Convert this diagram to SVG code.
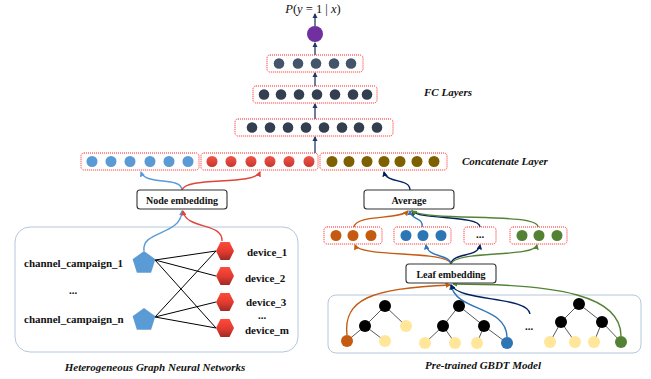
<svg xmlns="http://www.w3.org/2000/svg" width="651" height="379" viewBox="0 0 651 379">
<defs>
<style>
.dbox{fill:#fff;stroke:#ff2020;stroke-width:1;stroke-dasharray:1 1}
.sbox{fill:#fff;stroke:#333;stroke-width:1.1}
.lbl{font-family:"Liberation Serif",serif;font-weight:bold;font-size:10px;fill:#111;text-anchor:middle}
.node{font-family:"Liberation Serif",serif;font-weight:bold;font-size:11px;fill:#111}
.cap{font-family:"Liberation Serif",serif;font-weight:bold;font-style:italic;font-size:11px;fill:#111}
.fc1{fill:#44546a}.fc2{fill:#333f50}
.bl{fill:#5b9bd5}.rd{fill:url(#rg)}.br{fill:#7f6000}
.or{fill:#c55a11}.lb{fill:#2e75b6}.gr{fill:#548235}.ye{fill:#ffe699}.bk{fill:#000}
.edge{stroke:#000;stroke-width:1;fill:none}
.tedge{stroke:#595959;stroke-width:1;fill:none}
.nv{stroke:#1f3864;stroke-width:1.3;fill:none}
.c-bl{stroke:#5b9bd5;stroke-width:1.4;fill:none}
.c-rd{stroke:#e0443a;stroke-width:1.4;fill:none}
.c-or{stroke:#c55a11;stroke-width:1.4;fill:none}
.c-lb{stroke:#2e75b6;stroke-width:1.4;fill:none}
.c-gr{stroke:#548235;stroke-width:1.4;fill:none}
.c-nv{stroke:#002060;stroke-width:1.4;fill:none}
</style>
<linearGradient id="rg" x1="0" y1="0" x2="0" y2="1"><stop offset="0" stop-color="#f0564a"/><stop offset="1" stop-color="#c8362c"/></linearGradient>
<linearGradient id="hg" x1="0" y1="0" x2="0" y2="1"><stop offset="0" stop-color="#ff4a3a"/><stop offset="0.55" stop-color="#e03a30"/><stop offset="1" stop-color="#9e2a26"/></linearGradient>
<marker id="a-nv" viewBox="0 0 10 10" refX="8" refY="5" markerWidth="4" markerHeight="4" orient="auto"><path d="M0,0L10,5L0,10z" fill="#1f3864"/></marker>
<marker id="a-dn" viewBox="0 0 10 10" refX="8" refY="5" markerWidth="4" markerHeight="4" orient="auto"><path d="M0,0L10,5L0,10z" fill="#002060"/></marker>
<marker id="a-bl" viewBox="0 0 10 10" refX="8" refY="5" markerWidth="4" markerHeight="4" orient="auto"><path d="M0,0L10,5L0,10z" fill="#5b9bd5"/></marker>
<marker id="a-rd" viewBox="0 0 10 10" refX="8" refY="5" markerWidth="4" markerHeight="4" orient="auto"><path d="M0,0L10,5L0,10z" fill="#e0443a"/></marker>
<marker id="a-or" viewBox="0 0 10 10" refX="8" refY="5" markerWidth="4" markerHeight="4" orient="auto"><path d="M0,0L10,5L0,10z" fill="#c55a11"/></marker>
<marker id="a-lb" viewBox="0 0 10 10" refX="8" refY="5" markerWidth="4" markerHeight="4" orient="auto"><path d="M0,0L10,5L0,10z" fill="#2e75b6"/></marker>
<marker id="a-gr" viewBox="0 0 10 10" refX="8" refY="5" markerWidth="4" markerHeight="4" orient="auto"><path d="M0,0L10,5L0,10z" fill="#548235"/></marker>
<polygon id="hex" points="-9,0 -4.5,-9 4.5,-9 9,0 4.5,9 -4.5,9" fill="url(#hg)"/>
<polygon id="pent" points="0,-12 11.4,-3.7 7.1,9.7 -7.1,9.7 -11.4,-3.7" fill="#5b9bd5"/>
</defs>
<rect width="651" height="379" fill="#fff"/>

<g id="gnn-box"><rect x="15" y="227" width="283" height="125" rx="15" fill="#fff" stroke="#b4c7dc" stroke-width="1"/></g>
<g id="gbdt-box"><rect x="328" y="295" width="313" height="58" rx="8" fill="#fff" stroke="#b4c7dc" stroke-width="1"/></g>

<g id="connectors">
<line class="nv" x1="315" y1="26" x2="315" y2="14" marker-end="url(#a-nv)"/>
<line class="nv" x1="315" y1="55" x2="315" y2="43" marker-end="url(#a-nv)"/>
<line class="nv" x1="315" y1="86" x2="315" y2="73" marker-end="url(#a-nv)"/>
<line class="nv" x1="315" y1="119" x2="315" y2="104" marker-end="url(#a-nv)"/>
<line class="nv" x1="315" y1="153" x2="315" y2="137" marker-end="url(#a-nv)"/>
<path class="c-bl" d="M182,190 C181,176 146,186 141,172" marker-end="url(#a-bl)"/>
<path class="c-rd" d="M182,190 C186,176 254,186 260,172" marker-end="url(#a-rd)"/>
<path class="c-bl" d="M144,251 C141,230 181,236 182,211" marker-end="url(#a-bl)"/>
<path class="c-rd" d="M222,241 C223,222 186,230 183,211" marker-end="url(#a-rd)"/>
<line class="edge" x1="155" y1="260" x2="216" y2="251"/>
<line class="edge" x1="155" y1="260" x2="216" y2="276"/>
<line class="edge" x1="155" y1="260" x2="216" y2="328"/>
<line class="edge" x1="155" y1="317" x2="216" y2="251"/>
<line class="edge" x1="155" y1="317" x2="216" y2="302"/>
<line class="edge" x1="155" y1="317" x2="216" y2="328"/>
<path class="c-nv" d="M410,190 C410,178 387,184 384,172" marker-end="url(#a-dn)"/>
<path class="c-or" d="M354,227 C356,214 400,220 408,211" marker-end="url(#a-or)"/>
<path class="c-lb" d="M422,227 C424,217 410,220 410,211" marker-end="url(#a-lb)"/>
<path class="c-nv" d="M480,227 C480,215 420,220 412,211" marker-end="url(#a-dn)"/>
<path class="c-gr" d="M538,227 C538,212 430,222 412,211" marker-end="url(#a-gr)"/>
<path class="c-or" d="M451,264 C448,250 360,258 355,245" marker-end="url(#a-or)"/>
<path class="c-lb" d="M451,264 C450,254 428,258 426,245" marker-end="url(#a-lb)"/>
<path class="c-nv" d="M451,264 C453,252 478,258 480,245" marker-end="url(#a-dn)"/>
<path class="c-gr" d="M451,264 C455,250 534,258 537,245" marker-end="url(#a-gr)"/>
<path class="c-or" d="M347,335 C343,300 370,288 450,285" marker-end="url(#a-or)"/>
<path class="c-lb" d="M507,337 C506,305 456,312 451,285" marker-end="url(#a-lb)"/>
<path class="c-nv" d="M530,314 C528,296 460,302 451,285" marker-end="url(#a-dn)"/>
<path class="c-gr" d="M621,336 C621,296 560,284 453,284" marker-end="url(#a-gr)"/>
<g class="tedge">
<path d="M385,306 L365,326 M385,306 L406,326 M365,326 L347,341 M365,326 L385,341"/>
<path d="M459,306 L443,326 M459,306 L484,326 M443,326 L425,343 M443,326 L455,343 M484,326 L477,343 M484,326 L507,343"/>
<path d="M579,304 L561,322 M579,304 L602,322 M561,322 L550,342 M561,322 L575,342 M602,322 L594,342 M602,322 L621,342"/>
</g>
</g>

<g id="output"><circle cx="315" cy="34" r="8" fill="#7030a0"/>
<text x="313" y="13" font-family="Liberation Serif,serif" font-size="12.5" text-anchor="middle" fill="#111"><tspan font-style="italic">P</tspan>(<tspan font-style="italic">y</tspan> = 1 | <tspan font-style="italic">x</tspan>)</text></g>

<g id="fc1"><rect class="dbox" x="267" y="55" width="96" height="17" rx="3"/>
<g class="fc1"><circle cx="279" cy="63.5" r="5.3"/><circle cx="298" cy="63.5" r="5.3"/><circle cx="316" cy="63.5" r="5.3"/><circle cx="334" cy="63.5" r="5.3"/><circle cx="351" cy="63.5" r="5.3"/></g></g>
<g id="fc2"><rect class="dbox" x="253" y="86" width="124" height="17" rx="3"/>
<g class="fc2"><circle cx="264" cy="94.5" r="5.3"/><circle cx="281" cy="94.5" r="5.3"/><circle cx="299" cy="94.5" r="5.3"/><circle cx="317" cy="94.5" r="5.3"/><circle cx="335" cy="94.5" r="5.3"/><circle cx="353" cy="94.5" r="5.3"/><circle cx="367" cy="94.5" r="5.3"/></g></g>
<g id="fc3"><rect class="dbox" x="235" y="119" width="158" height="17" rx="3"/>
<g class="fc2"><circle cx="252" cy="127.5" r="5.3"/><circle cx="270" cy="127.5" r="5.3"/><circle cx="288" cy="127.5" r="5.3"/><circle cx="306" cy="127.5" r="5.3"/><circle cx="324" cy="127.5" r="5.3"/><circle cx="342" cy="127.5" r="5.3"/><circle cx="359" cy="127.5" r="5.3"/><circle cx="377" cy="127.5" r="5.3"/></g></g>
<g id="fc-label"><text class="cap" x="424" y="96">FC Layers</text></g>

<g id="concat-blue"><rect class="dbox" x="81" y="153" width="118" height="17" rx="3"/>
<g class="bl"><circle cx="92" cy="161.5" r="5.5"/><circle cx="111" cy="161.5" r="5.5"/><circle cx="130" cy="161.5" r="5.5"/><circle cx="150" cy="161.5" r="5.5"/><circle cx="169" cy="161.5" r="5.5"/><circle cx="188" cy="161.5" r="5.5"/></g></g>
<g id="concat-red"><rect class="dbox" x="201" y="153" width="117" height="17" rx="3"/>
<g class="rd"><circle cx="212" cy="161.5" r="5.5"/><circle cx="231" cy="161.5" r="5.5"/><circle cx="251" cy="161.5" r="5.5"/><circle cx="270" cy="161.5" r="5.5"/><circle cx="289" cy="161.5" r="5.5"/><circle cx="309" cy="161.5" r="5.5"/></g></g>
<g id="concat-brown"><rect class="dbox" x="320" y="153" width="127" height="17" rx="3"/>
<g class="br"><circle cx="332" cy="161.5" r="5.5"/><circle cx="349" cy="161.5" r="5.5"/><circle cx="367" cy="161.5" r="5.5"/><circle cx="384" cy="161.5" r="5.5"/><circle cx="400" cy="161.5" r="5.5"/><circle cx="417" cy="161.5" r="5.5"/><circle cx="434" cy="161.5" r="5.5"/></g></g>
<g id="concat-label"><text class="cap" x="462" y="165">Concatenate Layer</text></g>

<g id="node-embedding"><rect class="sbox" x="137" y="190" width="90" height="19" rx="3"/><text class="lbl" x="182" y="203.5">Node embedding</text></g>
<g id="average"><rect class="sbox" x="364" y="190" width="90" height="19" rx="3"/><text class="lbl" x="409" y="203.5">Average</text></g>
<g id="leaf-embedding"><rect class="sbox" x="406" y="264" width="90" height="19" rx="3"/><text class="lbl" x="451" y="277.5">Leaf embedding</text></g>

<g id="group-orange"><rect class="dbox" x="324" y="227" width="58" height="17" rx="3"/><g class="or"><circle cx="336" cy="235.5" r="5.5"/><circle cx="353" cy="235.5" r="5.5"/><circle cx="371" cy="235.5" r="5.5"/></g></g>
<g id="group-blue"><rect class="dbox" x="394" y="227" width="57" height="17" rx="3"/><g class="lb"><circle cx="406" cy="235.5" r="5.5"/><circle cx="423" cy="235.5" r="5.5"/><circle cx="441" cy="235.5" r="5.5"/></g></g>
<g id="group-dots"><rect class="dbox" x="464" y="227" width="32" height="17" rx="3"/><text class="node" x="480" y="238" text-anchor="middle" font-size="10">...</text></g>
<g id="group-green"><rect class="dbox" x="510" y="227" width="57" height="17" rx="3"/><g class="gr"><circle cx="522" cy="235.5" r="5.5"/><circle cx="539" cy="235.5" r="5.5"/><circle cx="557" cy="235.5" r="5.5"/></g></g>

<g id="channel-1"><use href="#pent" x="144" y="263"/><text class="node" x="24" y="267">channel_campaign_1</text></g>
<g id="channel-dots"><text class="node" x="73" y="294" text-anchor="middle">...</text></g>
<g id="channel-n"><use href="#pent" x="144" y="320"/><text class="node" x="24" y="323">channel_campaign_n</text></g>
<g id="device-1"><use href="#hex" x="225" y="251"/><text class="node" x="247" y="256">device_1</text></g>
<g id="device-2"><use href="#hex" x="225" y="276"/><text class="node" x="245" y="282">device_2</text></g>
<g id="device-3"><use href="#hex" x="225" y="302"/><text class="node" x="246" y="306">device_3</text></g>
<g id="device-dots"><text class="node" x="262" y="319" text-anchor="middle" font-size="9">...</text></g>
<g id="device-m"><use href="#hex" x="225" y="328"/><text class="node" x="245" y="334">device_m</text></g>
<g id="gnn-caption"><text class="cap" x="155" y="371" text-anchor="middle">Heterogeneous Graph Neural Networks</text></g>

<g id="tree-1"><circle class="bk" cx="385" cy="306" r="6"/><circle class="bk" cx="365" cy="326" r="6"/><circle class="ye" cx="406" cy="326" r="6"/><circle class="or" cx="347" cy="341" r="6"/><circle class="ye" cx="385" cy="341" r="6"/></g>
<g id="tree-2"><circle class="bk" cx="459" cy="306" r="6"/><circle class="bk" cx="443" cy="326" r="6"/><circle class="bk" cx="484" cy="326" r="6"/><circle class="ye" cx="425" cy="343" r="6"/><circle class="ye" cx="455" cy="343" r="6"/><circle class="ye" cx="477" cy="343" r="6"/><circle class="lb" cx="507" cy="343" r="6"/></g>
<g id="tree-dots"><text class="node" x="529" y="330" text-anchor="middle">...</text></g>
<g id="tree-3"><circle class="bk" cx="579" cy="304" r="6"/><circle class="bk" cx="561" cy="322" r="6"/><circle class="bk" cx="602" cy="322" r="6"/><circle class="ye" cx="550" cy="342" r="6"/><circle class="ye" cx="575" cy="342" r="6"/><circle class="ye" cx="594" cy="342" r="6"/><circle class="gr" cx="621" cy="342" r="6"/></g>
<g id="gbdt-caption"><text class="cap" x="483" y="369" text-anchor="middle">Pre-trained GBDT Model</text></g>
</svg>
